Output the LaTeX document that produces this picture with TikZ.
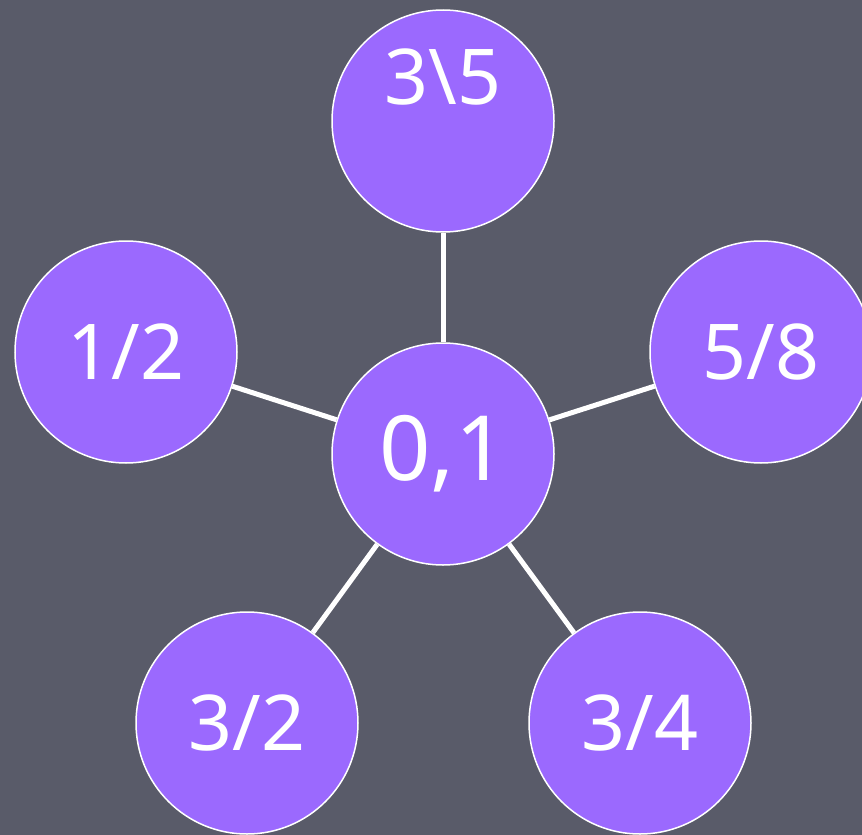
\documentclass[tikz,border=0pt]{standalone}
\usepackage{fontspec}
\setmainfont{Noto Sans}
\definecolor{slate}{HTML}{595B69}
\definecolor{violet}{HTML}{9B69FE}

\begin{document}
\begin{tikzpicture}[x=1pt, y=-1pt,
    bubble/.style={circle, draw=white, line width=1.5pt, fill=violet, text=white,
        minimum size=222pt, inner sep=0pt, font=\fontsize{77}{77}\selectfont},
    spoke/.style={draw=white, line width=5pt}]
            \fill[slate] (0,0) rectangle (862,835);
            \useasboundingbox (0,0) rectangle (862,835);

            \node[bubble, font=\fontsize{90}{90}\selectfont] (hub) at (443,454) {0,1};
            \node[bubble] (top) at (443,121) {};
            \node[text=white, font=\fontsize{77}{77}\selectfont] (toplabel) at (443,77) {3\textbackslash 5};
            \node[bubble] (left) at (126,352) {1/2};
            \node[bubble] (right) at (761,352) {5/8};
            \node[bubble] (botleft) at (247,723) {3/2};
            \node[bubble] (botright) at (640,723) {3/4};

            \draw[spoke] (hub) -- (top);
            \draw[spoke] (hub) -- (left);
            \draw[spoke] (hub) -- (right);
            \draw[spoke] (hub) -- (botleft);
            \draw[spoke] (hub) -- (botright);
        \end{tikzpicture}
\end{document}
